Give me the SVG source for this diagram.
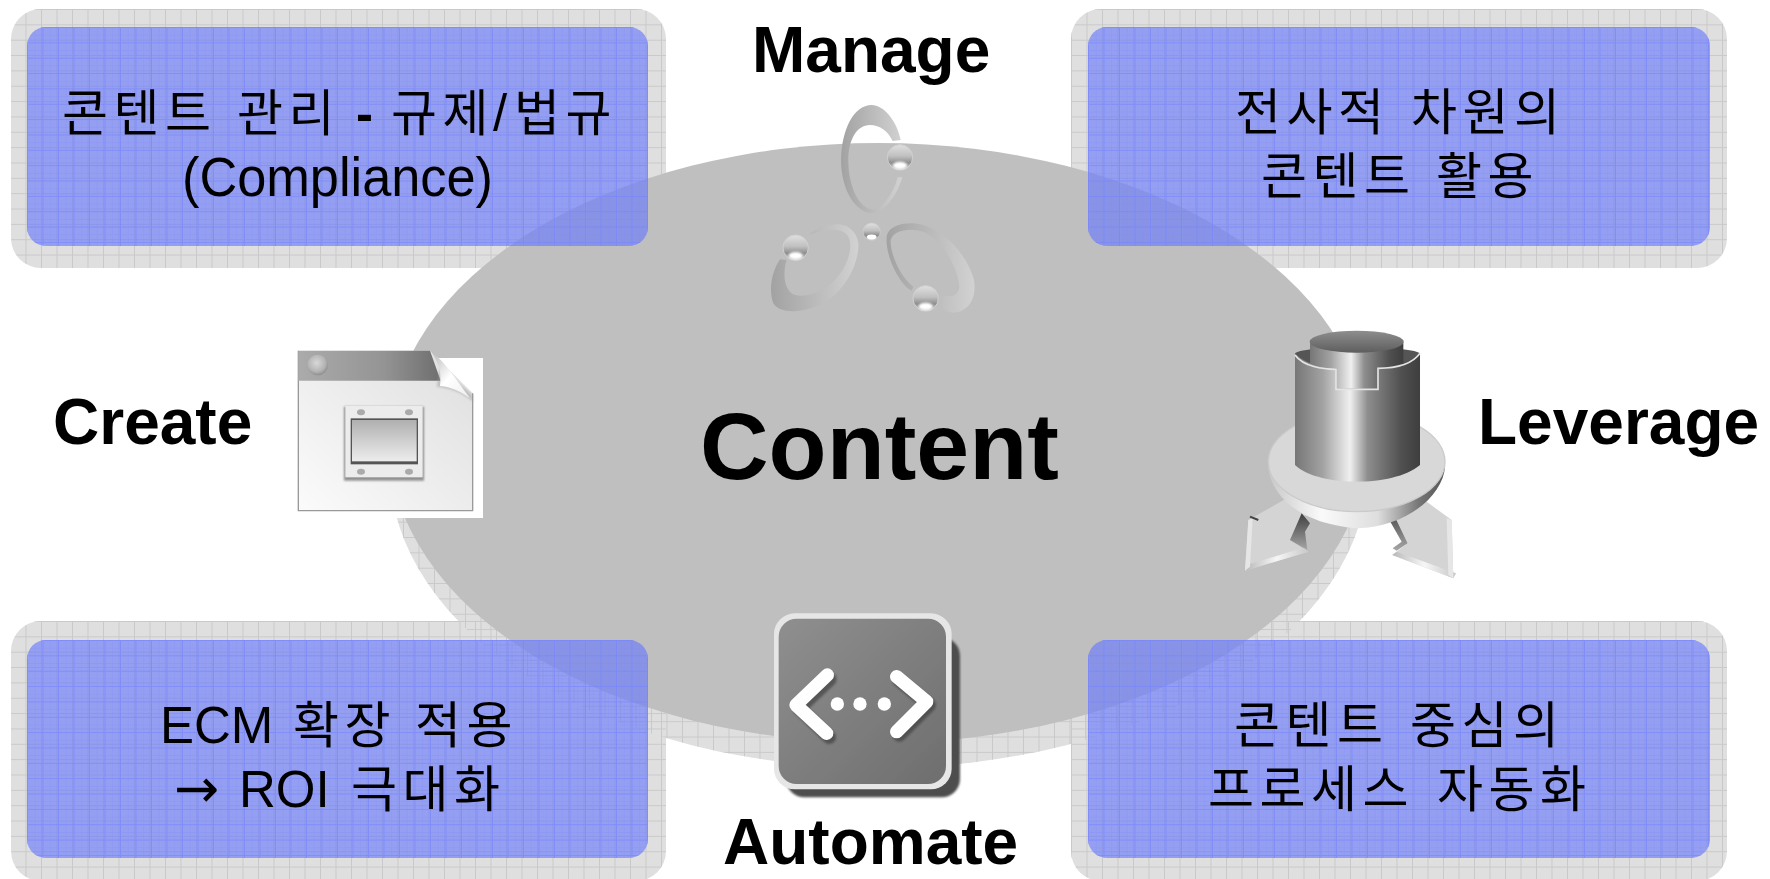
<svg xmlns="http://www.w3.org/2000/svg" width="1770" height="879" viewBox="0 0 1770 879">
<style>
text{fill:#000;text-anchor:start}
.k{font-family:"Liberation Sans","Noto Sans CJK KR",sans-serif;font-size:51px}
.h{font-family:"Noto Sans CJK KR","Liberation Sans",sans-serif;font-size:50px;letter-spacing:5.5px}
.t{font-family:"Liberation Sans",Arial,sans-serif;font-weight:bold;font-size:64px}
.out{fill:#dfdfdf}
.blue{fill:#6a7afa;fill-opacity:.64}
</style>
<defs>
<pattern id="grid" width="15.5" height="15.35" patternUnits="userSpaceOnUse"><path d="M.5 0V15.35M0 .5H15.5" fill="none" stroke="#c9c9c9" stroke-width="1"/></pattern>
<pattern id="gridE" x="403" y="537" width="15.5" height="15.35" patternUnits="userSpaceOnUse"><path d="M.5 0V15.35M0 .5H15.5" fill="none" stroke="#c9c9c9" stroke-width="1"/></pattern>
<pattern id="fine" width="7.75" height="7.68" patternUnits="userSpaceOnUse"><path d="M.5 0V7.68M0 .5H7.75" fill="none" stroke="#7a88ff" stroke-opacity=".25" stroke-width="1"/></pattern>
<pattern id="major" width="15.5" height="15.35" patternUnits="userSpaceOnUse"><path d="M.5 0V15.35M0 .5H15.5" fill="none" stroke="#7482ff" stroke-opacity=".5" stroke-width="1"/></pattern>
<linearGradient id="ring" x1="0" y1="0" x2="1" y2="0"><stop offset="0" stop-color="#a2a2a2"/><stop offset="1" stop-color="#d2d2d2"/></linearGradient>
<linearGradient id="ballFill" x1="0" y1="0" x2="0" y2="1"><stop offset="0" stop-color="#e0e0e0"/><stop offset=".45" stop-color="#c0c0c0"/><stop offset=".72" stop-color="#8e8e8e"/><stop offset="1" stop-color="#d6d6d6"/></linearGradient>
<g id="ballG"><circle r="38" fill="url(#ballFill)" stroke="#d0d0d0" stroke-width="3"/><ellipse cy="24" rx="21" ry="11" fill="#fff" filter="url(#b3)"/></g>
<radialGradient id="ball2" cx=".45" cy=".4" r=".6"><stop offset="0" stop-color="#d8d8d8"/><stop offset=".7" stop-color="#b4b4b4"/><stop offset="1" stop-color="#8e8e8e"/></radialGradient>
<linearGradient id="head" x1="0" y1="0" x2="1" y2="0"><stop offset="0" stop-color="#ababab"/><stop offset=".6" stop-color="#949494"/><stop offset="1" stop-color="#6e6e6e"/></linearGradient>
<linearGradient id="page" x1="0" y1="1" x2="1" y2="0"><stop offset="0" stop-color="#fbfbfb"/><stop offset="1" stop-color="#dedede"/></linearGradient>
<linearGradient id="curl" x1="0" y1="0" x2="1" y2="1"><stop offset="0" stop-color="#b8b8b8"/><stop offset=".5" stop-color="#fff"/><stop offset="1" stop-color="#eee"/></linearGradient>
<linearGradient id="win" x1="0" y1="0" x2="0" y2="1"><stop offset="0" stop-color="#b0b0b0"/><stop offset="1" stop-color="#ededed"/></linearGradient>
<linearGradient id="cyl" x1="0" y1="0" x2="1" y2="0"><stop offset="0" stop-color="#767676"/><stop offset=".22" stop-color="#a2a2a2"/><stop offset=".44" stop-color="#f0f0f0"/><stop offset=".58" stop-color="#8e8e8e"/><stop offset=".85" stop-color="#505050"/><stop offset="1" stop-color="#3e3e3e"/></linearGradient>
<linearGradient id="cap" x1="0" y1="0" x2="0" y2="1"><stop offset="0" stop-color="#8e8e8e"/><stop offset="1" stop-color="#5e5e5e"/></linearGradient>
<linearGradient id="rim" x1="0" y1="0" x2="1" y2="0"><stop offset="0" stop-color="#c8c8c8"/><stop offset=".3" stop-color="#fafafa"/><stop offset=".62" stop-color="#dedede"/><stop offset=".85" stop-color="#777"/><stop offset="1" stop-color="#555"/></linearGradient>
<linearGradient id="arm" x1="0" y1="0" x2="0" y2="1"><stop offset="0" stop-color="#3e3e3e"/><stop offset="1" stop-color="#a6a6a6"/></linearGradient>
<linearGradient id="edge" x1="0" y1="0" x2="1" y2="0"><stop offset="0" stop-color="#b8b8b8"/><stop offset=".5" stop-color="#f6f6f6"/><stop offset="1" stop-color="#c8c8c8"/></linearGradient>
<linearGradient id="tile" x1="0" y1="0" x2="1" y2="1"><stop offset="0" stop-color="#8f8f8f"/><stop offset="1" stop-color="#6e6e6e"/></linearGradient>
<filter id="b1" x="-20%" y="-20%" width="140%" height="140%"><feGaussianBlur stdDeviation="1"/></filter>
<filter id="b3" x="-30%" y="-30%" width="160%" height="160%"><feGaussianBlur stdDeviation="3"/></filter>
</defs>
<rect width="1770" height="879" fill="#fff"/>

<g id="backplates">
<rect class="out" x="11" y="9" width="655" height="259" rx="30"/>
<rect class="out" x="1071" y="9" width="656" height="259" rx="30"/>
<rect class="out" x="11" y="621" width="655" height="260" rx="30"/>
<rect class="out" x="1071" y="621" width="656" height="260" rx="30"/>
</g>
<ellipse id="content-shadow" class="out" cx="879" cy="468" rx="489" ry="300"/>
<g id="backplate-grids" fill="url(#grid)">
<g transform="translate(10 9)"><rect x="1" y="0" width="655" height="259" rx="30"/></g>
<g transform="translate(1071 9)"><rect width="656" height="259" rx="30"/></g>
<g transform="translate(10 621)"><rect x="1" width="655" height="260" rx="30"/></g>
<g transform="translate(1071 621)"><rect width="656" height="260" rx="30"/></g>
</g>
<ellipse cx="879" cy="468" rx="489" ry="300" fill="url(#gridE)"/>

<g id="content">
<ellipse cx="878.5" cy="443" rx="489" ry="300" fill="#bfbfbf"/>
<text class="t" x="700" y="479" style="font-size:95px">Content</text>
</g>

<g id="box-compliance">
<g transform="translate(27 27)"><rect class="blue" width="621" height="219" rx="19"/><rect width="621" height="219" rx="19" fill="url(#fine)"/><rect width="621" height="219" rx="19" fill="url(#major)"/></g>
<text class="k" y="131"><tspan class="h" x="62">콘텐트 </tspan><tspan class="h" x="237">관리 </tspan><tspan x="356" font-weight="bold">- </tspan><tspan class="h" x="391">규제</tspan><tspan x="493">/</tspan><tspan class="h" x="514">법규</tspan></text>
<text class="k" x="182" y="196" textLength="311" lengthAdjust="spacingAndGlyphs" style="font-size:55px">(Compliance)</text>
</g>
<g id="box-leverage">
<g transform="translate(1088 27)"><rect class="blue" width="622" height="219" rx="19"/><rect width="622" height="219" rx="19" fill="url(#fine)"/><rect width="622" height="219" rx="19" fill="url(#major)"/></g>
<text class="k" y="130"><tspan class="h" x="1235">전사적 </tspan><tspan class="h" x="1411">차원의</tspan></text>
<text class="k" y="194"><tspan class="h" x="1261">콘텐트 </tspan><tspan class="h" x="1436">활용</tspan></text>
</g>
<g id="box-ecm">
<g transform="translate(27 640)"><rect class="blue" width="621" height="218" rx="19"/><rect width="621" height="218" rx="19" fill="url(#fine)"/><rect width="621" height="218" rx="19" fill="url(#major)"/></g>
<text class="k" y="743"><tspan x="160">ECM </tspan><tspan class="h" x="293">확장 </tspan><tspan class="h" x="415">적용</tspan></text>
<text class="k" y="807"><tspan x="174" font-family="DejaVu Sans" font-size="54">→ </tspan><tspan x="239">ROI </tspan><tspan class="h" x="351">극대화</tspan></text>
</g>
<g id="box-process">
<g transform="translate(1088 640)"><rect class="blue" width="622" height="218" rx="19"/><rect width="622" height="218" rx="19" fill="url(#fine)"/><rect width="622" height="218" rx="19" fill="url(#major)"/></g>
<text class="k" y="743"><tspan class="h" x="1234">콘텐트 </tspan><tspan class="h" x="1410">중심의</tspan></text>
<text class="k" y="807"><tspan class="h" x="1208">프로세스 </tspan><tspan class="h" x="1437">자동화</tspan></text>
</g>

<g id="manage">
<text class="t" x="752" y="72">Manage</text>
<g transform="translate(740 90) scale(.33333)">
<path fill="url(#ring)" d="M482 150C470 90 430 45 395 45C340 45 305 120 303 210C303 290 340 365 395 370C430 370 470 320 487 262L473 262C460 310 430 352 400 358C358 358 325 290 325 210C325 150 350 105 390 105C420 105 445 125 458 153Z"/>
<path fill="url(#ring)" d="M120 508C95 545 85 600 100 640C120 675 200 670 262 632C325 590 358 510 355 460C350 415 310 395 270 405C240 410 215 425 208 435C250 418 305 408 325 440C345 480 310 560 260 590C220 620 165 625 150 605C130 585 130 540 140 510Z"/>
<path fill="url(#ring)" d="M440 440C435 500 480 585 515 602L520 590C480 560 450 490 452 450C460 420 510 412 550 425C610 450 655 540 658 590C655 620 630 620 610 618C600 650 600 665 640 668C690 665 710 620 702 570C680 490 610 420 550 405C500 392 445 405 440 440Z"/>
<use href="#ballG" x="480" y="202"/>
<use href="#ballG" x="167" y="473"/>
<use href="#ballG" x="557" y="625"/>
<use href="#ballG" transform="translate(395 425) scale(.68)"/>
</g>
</g>

<g id="create">
<text class="t" x="53" y="444">Create</text>
<rect x="308" y="358" width="175" height="160" fill="#fff"/>
<g transform="translate(280 330) scale(.33333)">
<path d="M55 62H450L578 190V542H55Z" fill="url(#page)"/>
<path d="M578 190V542H55V62" fill="none" stroke="#999" stroke-width="4"/>
<path d="M55 62H450L482 152H55Z" fill="url(#head)"/>
<path d="M470 170C510 175 545 185 578 215V195L480 110Z" fill="#999" opacity=".45" filter="url(#b3)"/>
<circle cx="113" cy="105" r="31" fill="url(#ball2)"/>
<path d="M455 66C490 90 530 150 570 205C530 175 500 170 480 168C487 120 470 90 455 66Z" fill="url(#curl)"/>
<rect x="192" y="230" width="240" height="222" fill="#8e8e8e" filter="url(#b3)"/>
<rect x="196" y="228" width="232" height="214" fill="#ececec"/>
<rect x="212" y="265" width="202" height="138" fill="#555" filter="url(#b1)"/>
<rect x="216" y="270" width="194" height="124" fill="url(#win)"/>
<ellipse cx="243" cy="247" rx="12" ry="9" fill="#aaa"/><ellipse cx="387" cy="247" rx="12" ry="9" fill="#aaa"/>
<ellipse cx="243" cy="425" rx="12" ry="9" fill="#aaa"/><ellipse cx="387" cy="425" rx="12" ry="9" fill="#aaa"/>
</g>
</g>

<g id="leverage">
<text class="t" x="1478" y="444">Leverage</text>
<g transform="translate(1230 310) scale(.33333)">
<path d="M165 568L55 630L45 782L235 725L180 690L240 590Z" fill="#d4d4d4"/>
<path d="M480 590L533 700L487 735L670 805L665 630L580 568Z" fill="#d4d4d4"/>
<path d="M45 782L235 725L225 712L50 765Z" fill="url(#edge)"/>
<path d="M487 735L670 805L678 790L500 725Z" fill="url(#edge)"/>
<path d="M45 782L55 630L68 625L60 770Z" fill="#e6e6e6"/>
<path d="M670 805L665 630L650 625L655 795Z" fill="#e6e6e6"/>
<path d="M60 620L85 630" stroke="#444" stroke-width="6"/>
<path d="M215 610L240 640L225 665L232 720L180 690Z" fill="url(#arm)"/>
<path d="M480 590L533 700L500 722L488 715L515 695L475 625Z" fill="url(#arm)"/>
<path d="M115 470C120 550 200 640 380 655C540 650 640 550 645 470Z" fill="url(#rim)"/>
<ellipse cx="380" cy="455" rx="265" ry="150" fill="#d8d8d8" stroke="#cacaca" stroke-width="4"/>
<path d="M195 130V465C230 500 310 515 380 515C450 515 530 500 570 465V130Z" fill="url(#cyl)"/>
<path d="M195 130C230 105 530 105 570 130C540 160 480 175 442 172V235H320V175C280 175 220 160 195 130Z" fill="#555"/>
<path d="M240 95V160C270 175 300 175 320 175V235H442V172C470 172 500 168 520 160V95Z" fill="url(#cyl)"/>
<ellipse cx="380" cy="95" rx="141" ry="33" fill="url(#cap)"/>
<path d="M195 135C220 170 280 178 318 178V238H444V175C490 175 545 165 570 130" fill="none" stroke="#e4e4e4" stroke-width="5"/>
</g>
</g>

<g id="automate">
<text class="t" x="723" y="864">Automate</text>
<g transform="translate(750 600) scale(.33333)">
<rect x="108" y="112" width="522" height="480" rx="55" fill="#4e4e4e" filter="url(#b3)"/>
<rect x="72" y="40" width="533" height="528" rx="62" fill="#e6e6e6" filter="url(#b1)"/>
<rect x="86" y="56" width="502" height="496" rx="54" fill="url(#tile)" filter="url(#b1)"/>
<g fill="none" stroke="#333" stroke-width="40" stroke-linecap="round" stroke-linejoin="round" opacity=".55" filter="url(#b3)" transform="translate(8 10)">
<path d="M232 228L140 315L230 402M440 232L530 305L440 395"/></g>
<g fill="none" stroke="#fff" stroke-width="40" stroke-linecap="round" stroke-linejoin="round">
<path d="M232 225L138 315L230 400M440 230L530 305L440 395"/></g>
<g fill="#fff"><circle cx="262" cy="312" r="20"/><circle cx="330" cy="312" r="20"/><circle cx="403" cy="312" r="20"/></g>
</g>
</g>
</svg>
